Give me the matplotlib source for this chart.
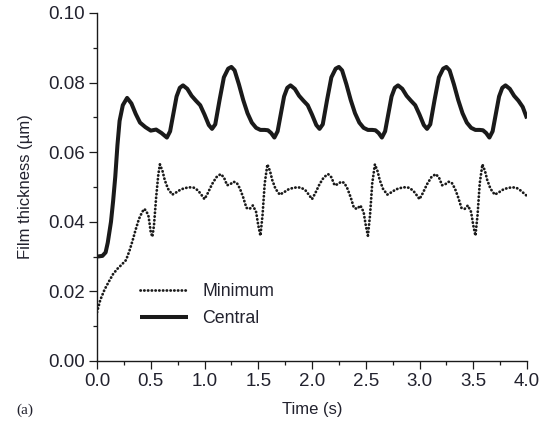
import matplotlib.pyplot as plt
from matplotlib.ticker import MultipleLocator, FormatStrFormatter

plt.rcParams['font.family'] = ['Liberation Sans', 'DejaVu Sans']

# Central film thickness (um) vs time (s)
t_central = [0.00, 0.05, 0.08, 0.10, 0.13, 0.15, 0.17, 0.19, 0.21, 0.24, 0.28, 0.32, 0.36, 0.40, 0.45, 0.50, 0.55, 0.60,
             0.65, 0.68, 0.71, 0.74, 0.77, 0.80, 0.84, 0.88, 0.92, 0.96, 1.00, 1.04, 1.07, 1.10, 1.14, 1.18, 1.22, 1.25,
             1.28, 1.32, 1.36, 1.40, 1.44, 1.48, 1.52, 1.56, 1.59, 1.62,
             1.65, 1.68, 1.71, 1.74, 1.77, 1.80, 1.84, 1.88, 1.92, 1.96, 2.00, 2.04, 2.07, 2.10, 2.14, 2.18, 2.22, 2.25,
             2.28, 2.32, 2.36, 2.40, 2.44, 2.48, 2.52, 2.56, 2.59, 2.62,
             2.65, 2.68, 2.71, 2.74, 2.77, 2.80, 2.84, 2.88, 2.92, 2.96, 3.00, 3.04, 3.07, 3.10, 3.14, 3.18, 3.22, 3.25,
             3.28, 3.32, 3.36, 3.40, 3.44, 3.48, 3.52, 3.56, 3.59, 3.62,
             3.65, 3.68, 3.71, 3.74, 3.77, 3.80, 3.84, 3.88, 3.92, 3.96, 4.00]
central = [0.0300, 0.0302, 0.0312, 0.0340, 0.0400, 0.0460, 0.0530, 0.0620, 0.0690, 0.0735, 0.0756, 0.0740, 0.0710, 0.0685, 0.0672, 0.0662, 0.0665, 0.0655,
           0.0642, 0.0660, 0.0710, 0.0760, 0.0785, 0.0792, 0.0782, 0.0762, 0.0748, 0.0735, 0.0708, 0.0678, 0.0667, 0.0680, 0.0750, 0.0815, 0.0840, 0.0845,
           0.0835, 0.0795, 0.0750, 0.0712, 0.0685, 0.0670, 0.0664, 0.0664, 0.0663, 0.0655,
           0.0642, 0.0660, 0.0710, 0.0760, 0.0785, 0.0792, 0.0782, 0.0762, 0.0748, 0.0735, 0.0708, 0.0678, 0.0667, 0.0680, 0.0750, 0.0815, 0.0840, 0.0845,
           0.0835, 0.0795, 0.0750, 0.0712, 0.0685, 0.0670, 0.0664, 0.0664, 0.0663, 0.0655,
           0.0642, 0.0660, 0.0710, 0.0760, 0.0785, 0.0792, 0.0782, 0.0762, 0.0748, 0.0735, 0.0708, 0.0678, 0.0667, 0.0680, 0.0750, 0.0815, 0.0840, 0.0845,
           0.0835, 0.0795, 0.0750, 0.0712, 0.0685, 0.0670, 0.0664, 0.0664, 0.0663, 0.0655,
           0.0642, 0.0660, 0.0710, 0.0760, 0.0785, 0.0792, 0.0782, 0.0762, 0.0748, 0.0730, 0.0697]

# Minimum film thickness (um) vs time (s)
t_minimum = [0.00, 0.03, 0.07, 0.11, 0.15, 0.19, 0.23, 0.27, 0.30, 0.33, 0.36, 0.39, 0.42, 0.44, 0.46, 0.48, 0.50, 0.515, 0.53, 0.55, 0.57,
             0.585, 0.61, 0.63, 0.66, 0.70, 0.74, 0.78, 0.82, 0.86, 0.90, 0.94, 0.97, 1.00, 1.03, 1.07, 1.11, 1.15, 1.18, 1.21, 1.24,
             1.27, 1.30, 1.33, 1.36, 1.39, 1.42, 1.45, 1.48, 1.50, 1.52, 1.54, 1.56,
             1.585, 1.61, 1.63, 1.66, 1.70, 1.74, 1.78, 1.82, 1.86, 1.90, 1.94, 1.97, 2.00, 2.03, 2.07, 2.11, 2.15, 2.18, 2.21, 2.24,
             2.27, 2.30, 2.33, 2.36, 2.39, 2.42, 2.45, 2.48, 2.50, 2.52, 2.54, 2.56,
             2.585, 2.61, 2.63, 2.66, 2.70, 2.74, 2.78, 2.82, 2.86, 2.90, 2.94, 2.97, 3.00, 3.03, 3.07, 3.11, 3.15, 3.18, 3.21, 3.24,
             3.27, 3.30, 3.33, 3.36, 3.39, 3.42, 3.45, 3.48, 3.50, 3.52, 3.54, 3.56,
             3.585, 3.61, 3.63, 3.66, 3.70, 3.74, 3.78, 3.82, 3.86, 3.90, 3.94, 3.97, 4.00]
minimum = [0.0140, 0.0175, 0.0205, 0.0228, 0.0250, 0.0265, 0.0277, 0.0290, 0.0315, 0.0345, 0.0378, 0.0408, 0.0428, 0.0437, 0.0430, 0.0415, 0.0370, 0.0357, 0.0390, 0.0470, 0.0535,
           0.0565, 0.0545, 0.0520, 0.0495, 0.0478, 0.0485, 0.0493, 0.0497, 0.0499, 0.0498, 0.0490, 0.0478, 0.0465, 0.0482, 0.0508, 0.0528, 0.0537, 0.0528, 0.0505, 0.0508,
           0.0515, 0.0512, 0.0495, 0.0470, 0.0440, 0.0437, 0.0447, 0.0428, 0.0390, 0.0360, 0.0420, 0.0510,
           0.0565, 0.0545, 0.0520, 0.0495, 0.0478, 0.0485, 0.0493, 0.0497, 0.0499, 0.0498, 0.0490, 0.0478, 0.0465, 0.0482, 0.0508, 0.0528, 0.0537, 0.0528, 0.0505, 0.0508,
           0.0515, 0.0512, 0.0495, 0.0470, 0.0440, 0.0437, 0.0447, 0.0428, 0.0390, 0.0360, 0.0420, 0.0510,
           0.0565, 0.0545, 0.0520, 0.0495, 0.0478, 0.0485, 0.0493, 0.0497, 0.0499, 0.0498, 0.0490, 0.0478, 0.0465, 0.0482, 0.0508, 0.0528, 0.0537, 0.0528, 0.0505, 0.0508,
           0.0515, 0.0512, 0.0495, 0.0470, 0.0440, 0.0437, 0.0447, 0.0428, 0.0390, 0.0360, 0.0420, 0.0510,
           0.0565, 0.0545, 0.0520, 0.0495, 0.0478, 0.0485, 0.0493, 0.0497, 0.0499, 0.0498, 0.0490, 0.0482, 0.0474]

text_col = '#22222e'

fig = plt.figure(figsize=(5.45, 4.23), dpi=100)
ax = fig.add_axes([0.178, 0.1466, 0.789, 0.8227])

ax.plot(t_minimum, minimum, color='#1a1a1a', lw=2.0, linestyle=(0, (0.1, 1.25)),
        dash_capstyle='round', label='Minimum')
ax.plot(t_central, central, color='#1a1a1a', lw=2.9, solid_capstyle='butt', label='Central')

ax.set_xlim(0, 4.0)
ax.set_ylim(0, 0.10)
ax.xaxis.set_major_locator(MultipleLocator(0.5))
ax.xaxis.set_minor_locator(MultipleLocator(0.25))
ax.yaxis.set_major_locator(MultipleLocator(0.02))
ax.yaxis.set_minor_locator(MultipleLocator(0.01))
ax.xaxis.set_major_formatter(FormatStrFormatter('%.1f'))
ax.yaxis.set_major_formatter(FormatStrFormatter('%.2f'))

for s in ['top', 'right']:
    ax.spines[s].set_visible(False)
for s in ['left', 'bottom']:
    ax.spines[s].set_linewidth(1.0)
    ax.spines[s].set_color('#1a1a1a')

ax.tick_params(which='major', direction='out', length=6, width=0.9, color='#1a1a1a',
               labelsize=13.5, labelcolor=text_col, pad=2.5)
ax.tick_params(which='minor', direction='out', length=3, width=0.9, color='#1a1a1a')

ax.set_xlabel('Time (s)', fontsize=12, color=text_col, labelpad=9)
ax.set_ylabel('Film thickness (\u00b5m)', fontsize=12, color=text_col, labelpad=11)

fig.text(0.03, 0.022, '(a)', fontsize=11, family='Liberation Serif', color=text_col)

leg = ax.legend(loc='center left', bbox_to_anchor=(0.1, 0.16), frameon=False, fontsize=12.8,
                handlelength=2.7, handletextpad=0.8, labelspacing=0.55, borderpad=0,
                borderaxespad=0)
for txt in leg.get_texts():
    txt.set_color(text_col)

fig.savefig('out.png', dpi=100)
